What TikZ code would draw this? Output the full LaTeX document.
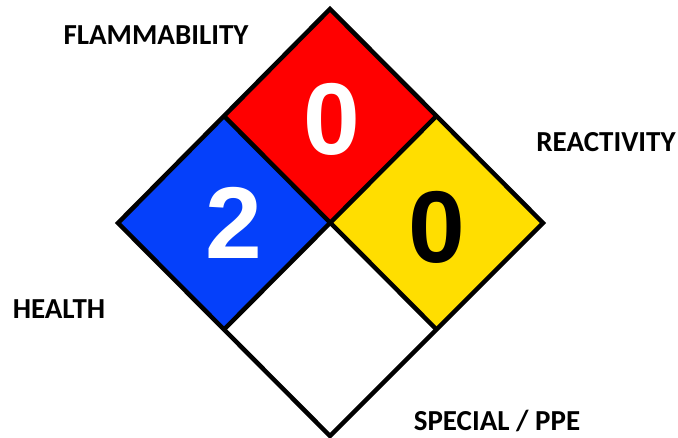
\documentclass[tikz,border=0pt]{standalone}
\usepackage{fontspec}
\setmainfont{Carlito}
\newfontfamily\numfont{Liberation Sans}
\definecolor{nfpared}{RGB}{255,0,0}
\definecolor{nfpablue}{RGB}{5,64,250}
\definecolor{nfpayellow}{RGB}{255,222,0}
\begin{document}
\begin{tikzpicture}[x=1pt,y=-1pt,
  cell/.style={draw=black,line width=4.5pt,line join=miter},
  lbl/.style={font=\fontsize{29}{32}\selectfont\bfseries,inner sep=0pt},
  num/.style={font=\numfont\fontsize{102}{106}\selectfont\bfseries,inner sep=0pt}]
\useasboundingbox (0,0) rectangle (678,438);
\coordinate (T) at (330,9);
\coordinate (L) at (118,223);
\coordinate (R) at (543,223);
\coordinate (B) at (330,436);
\coordinate (C) at (330,222);
\coordinate (TL) at (224,116);
\coordinate (TR) at (436.5,116);
\coordinate (BL) at (224,329.5);
\coordinate (BR) at (436.5,329.5);
\fill[white] (C) -- (BL) -- (B) -- (BR) -- cycle;
\fill[nfpared] (T) -- (TR) -- (C) -- (TL) -- cycle;
\fill[nfpablue] (TL) -- (C) -- (BL) -- (L) -- cycle;
\fill[nfpayellow] (TR) -- (R) -- (BR) -- (C) -- cycle;
\draw[cell] (T) -- (R) -- (B) -- (L) -- cycle;
\draw[cell] (TL) -- (BR);
\draw[cell] (TR) -- (BL);
\node[num,text=white] (nf) at (332,119) {0};
\node[num,text=white] (nh) at (234,223) {2};
\node[num,text=black] (nr) at (437,227) {0};
\node[lbl] (lf) at (156,35) {FLAMMABILITY};
\node[lbl] (lr) at (606,142) {REACTIVITY};
\node[lbl] (lh) at (59,309) {HEALTH};
\node[lbl] (ls) at (497,421) {SPECIAL / PPE};
\end{tikzpicture}
\end{document}
